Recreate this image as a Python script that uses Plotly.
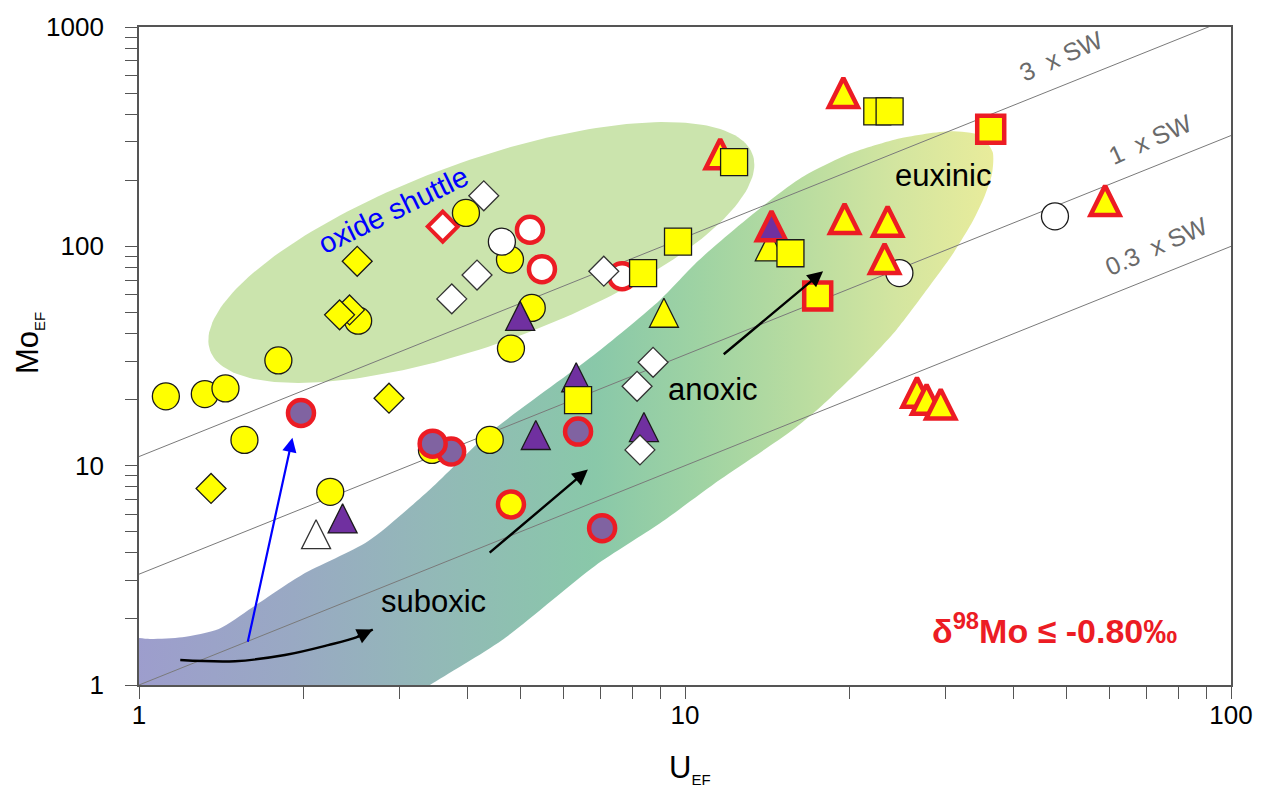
import numpy as np
import plotly.graph_objects as go

# ---------------- data: U_EF and Mo_EF per sample group ----------------
# plain symbols (black outline)
yc_u  = [1.12, 1.32, 1.44, 1.56, 1.80, 2.24, 2.52, 3.97, 4.78, 4.80, 5.24, 4.39, 3.44]
yc_mo = [20.7, 21.2, 22.5, 13.1, 30.2, 7.6, 45.8, 142, 87, 34.2, 52.4, 13.1, 11.8]

yd_u  = [1.355, 2.51, 2.43, 2.33, 2.87]
yd_mo = [7.87, 85.5, 51.3, 48.7, 20.3]

wc_u  = [4.62, 24.7, 47.6]
wc_mo = [105, 75.5, 137]

wd_u  = [4.28, 4.16, 3.74, 7.1, 8.74, 8.17, 8.27]
wd_mo = [170, 74, 57.6, 77, 29.6, 23.0, 11.8]

wt_u  = [2.11]
wt_mo = [4.87]

pt_u  = [2.36, 5.33, 6.32, 8.41, 4.99]
pt_mo = [5.75, 13.8, 25.3, 15.0, 48.2]

yt_u  = [9.15, 14.3]
yt_mo = [49.8, 100]

ys_u  = [6.37, 9.71, 8.38, 12.3, 15.6, 22.5, 23.7]
ys_mo = [19.9, 105, 75.5, 242, 93, 412, 412]

# samples with delta98Mo <= -0.80 permil (red outline)
rwc_u  = [5.20, 5.47, 7.67]
rwc_mo = [119, 78.7, 73.1]

rwd_u  = [3.60]
rwd_mo = [123]

rpc_u  = [1.98, 3.73, 3.45, 6.37, 7.05]
rpc_mo = [17.4, 11.6, 12.6, 14.3, 5.19]

ryc_u  = [4.80]
ryc_mo = [6.66]

ryt_u  = [11.6, 19.5, 19.6, 23.5, 23.2, 58.8, 26.6, 27.7, 29.4]
ryt_mo = [264, 503, 134, 130, 88, 162, 21.6, 20.1, 19.1]

rpt_u  = [14.4]
rpt_mo = [124]

rys_u  = [17.5, 36.3]
rys_mo = [59.4, 342]

# seawater Mo/U reference lines (Mo_EF = ratio * U_EF)
sw_labels = ["0.3\u00a0 x SW", "1\u00a0 x SW", "3\u00a0 x SW"]
sw_ratio  = [1.0, 3.2, 11.0]
sw_label_u  = [73.0, 71.1, 48.8]
sw_label_mo = [100, 310, 740]

# suboxic -> anoxic -> euxinic field outline
# (closed; the left and bottom edges run past the axis limits and are clipped)
band_u  = [0.9, 1.05, 1.20, 1.40, 1.61, 1.99, 2.63, 3.41, 4.34, 6.90, 9.0, 10.6, 13.2,
           16.2, 20.0, 24.8, 30.6, 34.7, 36.6, 36.5, 35.4, 33.7, 31.0, 27.7,
           24.4, 20.9, 17.7, 15.6, 11.6, 9.0, 6.84, 4.62, 3.41, 2.96, 0.9, 0.9]
band_mo = [1.62, 1.62, 1.65, 1.80, 2.25, 3.18, 4.53, 7.79, 13.8, 32.8, 57, 86.4, 138,
           203, 264, 311, 335, 321, 269, 214, 170, 131, 93, 63.2,
           41.7, 27.5, 18.5, 14.3, 8.64, 5.46, 3.49, 1.60, 1.0, 0.8, 0.8, 1.62]
band_colors = [[0.00, "#9d9dcd"], [0.03, "#9d9dcd"], [0.21, "#99a9c3"],
               [0.36, "#93b8b8"], [0.55, "#89c8a9"], [0.67, "#9fd3a3"],
               [0.78, "#b8dca0"], [0.89, "#d3e5a0"], [1.00, "#e9ec9b"]]

# oxide shuttle field: sheared ellipse in log-log space
shuttle_center = (0.627, 1.972)    # log10 U, log10 Mo
shuttle_half_width = 0.50          # decades of U
shuttle_half_height = 0.44         # decades of Mo
shuttle_shear = 0.80               # d(log Mo)/d(log U) of the long axis

# process arrows (tail, head) as (U, Mo)
arrow_blue = [(1.58, 1.55), (1.91, 13.4)]
arrow_mid  = [(4.36, 3.96), (6.64, 9.6)]
arrow_high = [(11.7, 31.8), (17.9, 77)]
curve_u  = [1.19, 1.50, 1.85, 2.22, 2.50]
curve_mo = [1.30, 1.284, 1.37, 1.52, 1.65]
curve_head = (2.68, 1.79)

# field names
field_text = ["oxide shuttle", "suboxic", "anoxic", "euxinic"]
field_u    = [2.92, 3.46, 11.25, 29.7]
field_mo   = [146, 2.40, 22.3, 210]

FONT = "Liberation Sans, Arial, Helvetica, sans-serif"
YELLOW = "#ffff00"
PURPLE_T = "#7030a0"
PURPLE_C = "#8063a1"
RED = "#ec1c24"
INK = "#1a1a1a"

fig = go.Figure()

# ---------------- shaded fields ----------------
t = np.linspace(0, 2 * np.pi, 200)
lu = shuttle_center[0] + shuttle_half_width * np.cos(t)
lm = shuttle_center[1] + shuttle_shear * shuttle_half_width * np.cos(t) + shuttle_half_height * np.sin(t)
fig.add_trace(go.Scatter(x=10 ** lu, y=10 ** lm, mode="lines", fill="toself",
                         fillcolor="#cbe4ad", line=dict(width=0),
                         hoverinfo="skip", showlegend=False))

fig.add_trace(go.Scatter(x=band_u, y=band_mo, mode="lines", fill="toself",
                         line=dict(width=0, shape="spline", smoothing=0.7),
                         fillgradient=dict(type="horizontal", colorscale=band_colors),
                         hoverinfo="skip", showlegend=False))

# ---------------- seawater ratio lines ----------------
sw_u = np.array([1.0, 100.0])
for ratio in sw_ratio:
    fig.add_trace(go.Scatter(x=sw_u, y=ratio * sw_u, mode="lines",
                             line=dict(color="#7a7a7a", width=1),
                             hoverinfo="skip", showlegend=False))

# suboxic curved arrow shaft
fig.add_trace(go.Scatter(x=curve_u + [curve_head[0]], y=curve_mo + [curve_head[1]],
                         mode="lines", line=dict(color="black", width=2.4, shape="spline"),
                         hoverinfo="skip", showlegend=False))


# ---------------- sample markers ----------------
def add_group(u, mo, symbol, fill, edge, edge_w, size):
    marker = dict(symbol=symbol, size=size, color=fill, line=dict(color=edge, width=edge_w))
    if symbol == "triangle":
        # upright triangle with equal width and height, centred on the point
        marker.update(symbol="arrow-down", angle=180, standoff=size / 2)
    fig.add_trace(go.Scatter(x=u, y=mo, mode="markers", marker=marker,
                             hoverinfo="x+y", showlegend=False))


add_group(rwd_u, rwd_mo, "diamond", "white", RED, 4, 23)
add_group(yc_u, yc_mo, "circle", YELLOW, INK, 1.3, 27)
add_group(rwc_u, rwc_mo, "circle", "white", RED, 4.5, 26)
add_group(yd_u, yd_mo, "diamond", YELLOW, INK, 1.3, 23)
add_group(wc_u, wc_mo, "circle", "white", INK, 1.3, 27)
add_group(rpc_u, rpc_mo, "circle", PURPLE_C, RED, 4.5, 26)
add_group(ryc_u, ryc_mo, "circle", YELLOW, RED, 4.5, 26)
add_group(pt_u, pt_mo, "triangle", PURPLE_T, INK, 1.3, 29)
add_group(wt_u, wt_mo, "triangle", "white", "#333333", 1.3, 29)
add_group(wd_u, wd_mo, "diamond", "white", "#333333", 1.3, 23)
add_group(yt_u, yt_mo, "triangle", YELLOW, INK, 1.3, 29)
add_group(ryt_u, ryt_mo, "triangle", YELLOW, RED, 4.5, 29)
add_group(rpt_u, rpt_mo, "triangle", PURPLE_T, RED, 4.5, 29)
add_group(ys_u, ys_mo, "square", YELLOW, INK, 1.3, 27)
add_group(rys_u, rys_mo, "square", YELLOW, RED, 4.5, 27)


# ---------------- arrows ----------------
def add_arrow(tail, head, color, width, size):
    fig.add_annotation(x=np.log10(head[0]), y=np.log10(head[1]),
                       ax=np.log10(tail[0]), ay=np.log10(tail[1]),
                       xref="x", yref="y", axref="x", ayref="y",
                       text="", showarrow=True, arrowhead=2, arrowsize=size,
                       arrowwidth=width, arrowcolor=color, standoff=0)


add_arrow(arrow_blue[0], arrow_blue[1], "#0000ff", 2.2, 1.3)
add_arrow(arrow_mid[0], arrow_mid[1], "black", 2.4, 1.3)
add_arrow(arrow_high[0], arrow_high[1], "black", 2.4, 1.3)
add_arrow((curve_u[-1], curve_mo[-1]), curve_head, "black", 2.4, 1.3)

# ---------------- text ----------------
for txt, u, mo in zip(field_text, field_u, field_mo):
    is_shuttle = txt == "oxide shuttle"
    fig.add_annotation(x=np.log10(u), y=np.log10(mo), xref="x", yref="y",
                       text=txt, showarrow=False,
                       textangle=-26 if is_shuttle else 0,
                       font=dict(family=FONT, size=29 if is_shuttle else 31,
                                 color="#0000ff" if is_shuttle else "black"))

for txt, u, mo in zip(sw_labels, sw_label_u, sw_label_mo):
    fig.add_annotation(x=np.log10(u), y=np.log10(mo), xref="x", yref="y",
                       text=txt, showarrow=False, textangle=-24,
                       font=dict(family=FONT, size=25, color="#6a6a6a"))

fig.add_annotation(x=np.log10(47.6), y=np.log10(1.81), xref="x", yref="y",
                   text="<b>δ<sup>98</sup>Mo ≤ -0.80‰</b>", showarrow=False,
                   font=dict(family=FONT, size=34, color=RED))

# axis titles
fig.add_annotation(x=0.5046, y=-0.127, xref="paper", yref="paper", showarrow=False,
                   xanchor="center", yanchor="middle",
                   text="U<sub><span style='font-size:15px'>EF</span></sub>",
                   font=dict(family=FONT, size=31, color="black"))
fig.add_annotation(x=-0.1005, y=0.52, xref="paper", yref="paper", showarrow=False,
                   xanchor="center", yanchor="middle", textangle=-90,
                   text="Mo<sub><span style='font-size:15px'>EF</span></sub>",
                   font=dict(family=FONT, size=31, color="black"))

# ---------------- axes ----------------
axis_common = dict(type="log", showgrid=False, zeroline=False,
                   showline=True, linecolor="#555555", linewidth=1.8, mirror=True,
                   ticks="outside", ticklen=12, tickwidth=1.3, tickcolor="#555555",
                   tickfont=dict(family=FONT, size=26, color="black"))

x_minor = [m * d for d in (1, 10) for m in range(2, 10)]
y_minor = [m * d for d in (1, 10, 100) for m in range(2, 10)]

fig.update_xaxes(range=[0, 2], tickmode="array", tickvals=[1, 10, 100],
                 ticktext=["1", "10", "100"], ticklabelstandoff=-6,
                 minor=dict(tickmode="array", tickvals=x_minor, ticks="outside",
                            ticklen=12, tickwidth=1.2, tickcolor="#555555", showgrid=False),
                 **axis_common)
fig.update_yaxes(range=[0, 3], tickmode="array", tickvals=[1, 10, 100, 1000],
                 ticktext=["1", "10", "100", "1000"], ticklabelstandoff=16,
                 minor=dict(tickmode="array", tickvals=y_minor, ticks="outside",
                            ticklen=12, tickwidth=1.2, tickcolor="#555555", showgrid=False),
                 **axis_common)

fig.update_layout(width=1265, height=791,
                  margin=dict(l=139, r=34, t=22, b=106),
                  paper_bgcolor="white", plot_bgcolor="white",
                  font=dict(family=FONT), showlegend=False)

fig.write_html("out.html")
